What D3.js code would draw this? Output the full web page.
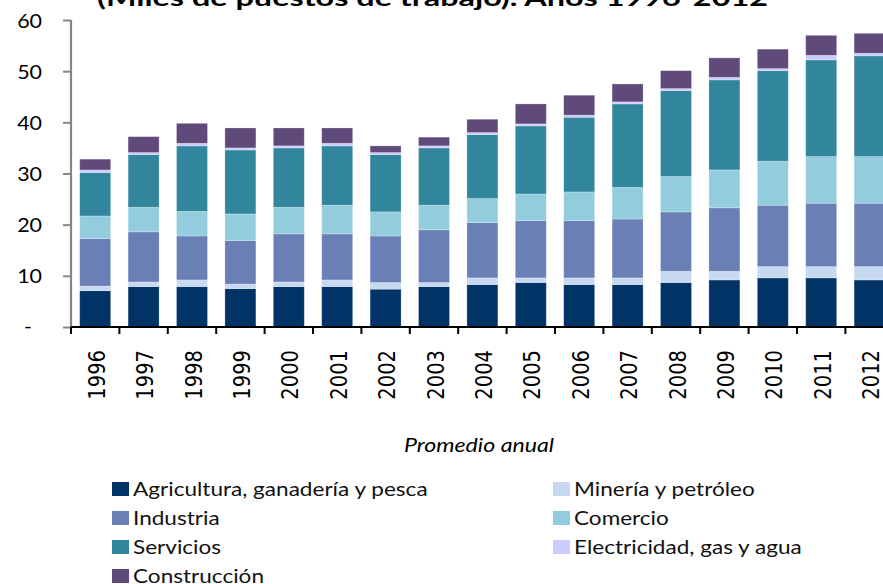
<!DOCTYPE html>
<html>
<head>
<meta charset="utf-8">
<script src="https://cdn.jsdelivr.net/npm/d3@7"></script>
<style>
  body { margin: 0; background: #fff; }
  svg { display: block; }
  text { font-family: Lato, "Open Sans", sans-serif; fill: #000; }
</style>
</head>
<body>
<div class="chart-wrapper"></div>
<script>
const years = ['1996','1997','1998','1999','2000','2001','2002','2003','2004','2005','2006','2007','2008','2009','2010','2011','2012']

const seriesNames = ['Agricultura, ganadería y pesca','Minería y petróleo','Industria','Comercio','Servicios','Electricidad, gas y agua','Construcción']
const seriesColors = ['#013366','#c6d9f0','#6b7fb7','#93cddd','#31859c','#ccccfc','#604a7b']

const agricultura = [7.1,7.9,7.9,7.5,7.9,7.9,7.4,7.9,8.3,8.7,8.3,8.3,8.7,9.2,9.6,9.6,9.2]
const mineria = [0.9,0.9,1.3,0.9,0.9,1.3,1.3,0.8,1.3,0.9,1.3,1.3,2.2,1.7,2.2,2.2,2.6]
const industria = [9.3,9.8,8.6,8.5,9.4,9.0,9.1,10.3,10.8,11.2,11.2,11.5,11.6,12.4,12.0,12.4,12.4]
const comercio = [4.4,4.8,4.8,5.2,5.2,5.6,4.7,4.8,4.7,5.2,5.6,6.2,6.9,7.4,8.6,9.1,9.1]
const servicios = [8.5,10.3,12.8,12.5,11.6,11.6,11.2,11.2,12.5,13.3,14.6,16.3,16.8,17.6,17.7,18.9,19.7]
const electricidad = [0.5,0.4,0.5,0.4,0.4,0.5,0.4,0.4,0.4,0.4,0.4,0.4,0.4,0.5,0.4,0.9,0.5]
const construccion = [2.1,3.1,3.9,3.9,3.5,3.0,1.3,1.7,2.6,3.9,3.9,3.5,3.5,3.8,3.8,3.9,3.9]

const yTicks = [0,10,20,30,40,50,60]
const yTickLabels = ['-','10','20','30','40','50','60']

const title = '(Miles de puestos de trabajo). Años 1996-2012'
const xTitle = 'Promedio anual'

let width = 883, height = 584
let sx = 1.22 // the source picture is stretched sideways

let svg = d3.select('.chart-wrapper').append('svg')
.attr('width', width)
.attr('height', height)

let values = [agricultura, mineria, industria, comercio, servicios, electricidad, construccion]
let table = years.map((y, i) => {
	let row = { year: y }
	seriesNames.forEach((s, j) => row[s] = values[j][i])
	return row
})

let stack = d3.stack().keys(seriesNames)(table)

let x = d3.scaleBand()
.domain(years)
.range([71, 893.8])
.paddingInner(0.36)
.paddingOuter(0.18)

let y = d3.scaleLinear()
.domain([0, 60])
.range([327, 20])

let color = d3.scaleOrdinal().domain(seriesNames).range(seriesColors)

// title, cut at the top like the original
svg.append('text')
.attr('x', 97)
.attr('y', 6)
.attr('textLength', 671)
.attr('lengthAdjust', 'spacingAndGlyphs')
.style('font-size', '22px')
.style('font-weight', 'bold')
.text(title)

// bars
svg.append('g').selectAll('g')
.data(stack)
.join('g')
.attr('fill', d => color(d.key))
.selectAll('rect')
.data(d => d)
.join('rect')
.attr('x', d => x(d.data.year))
.attr('width', x.bandwidth())
.attr('y', d => y(d[1]))
.attr('height', d => y(d[0]) - y(d[1]))
.attr('stroke', '#fff')
.attr('stroke-opacity', 0.3)
.attr('stroke-width', 0.8)

// y axis
let yAxis = svg.append('g')
.attr('transform', 'translate(71,0)')
.call(d3.axisLeft(y).tickValues(yTicks).tickSize(8).tickFormat((d, i) => yTickLabels[i]))

yAxis.select('.domain').attr('stroke', '#868686').attr('stroke-width', 2.2).attr('d', 'M0,' + y(60) + 'V' + y(0))
yAxis.selectAll('.tick line').attr('stroke', '#868686').attr('stroke-width', 2)
yAxis.selectAll('.tick text')
.attr('x', null).attr('dy', null)
.attr('text-anchor', 'end')
.attr('transform', d => d === 0 ? 'translate(-39,5) scale(1.1,1)' : 'translate(-29,7) scale(1.1,1)')
.style('font-family', 'Lato, sans-serif')
.style('font-size', '19.5px')
.style('fill', '#000')

// x axis line and separators between years
let xAxis = svg.append('g')
xAxis.append('line')
.attr('x1', 71).attr('x2', width)
.attr('y1', y(0)).attr('y2', y(0))
.attr('stroke', '#000').attr('stroke-width', 2.2)

xAxis.selectAll('.sep')
.data(d3.range(years.length + 1))
.join('line')
.attr('class', 'sep')
.attr('x1', i => 71 + i * x.step()).attr('x2', i => 71 + i * x.step())
.attr('y1', y(0)).attr('y2', y(0) + 7)
.attr('stroke', '#000').attr('stroke-width', 2)

xAxis.selectAll('.yr')
.data(years)
.join('text')
.attr('class', 'yr')
.attr('transform', d => 'translate(' + (x(d) + x.bandwidth() / 2 + 1) + ',350) rotate(-90) scale(1,1.22)')
.attr('text-anchor', 'end')
.attr('dy', '0.36em')
.style('font-family', '"DejaVu Sans", sans-serif')
.style('font-size', '19.5px')
.text(d => d)

svg.append('text')
.attr('transform', 'translate(479,452) scale(' + sx + ',1)')
.attr('text-anchor', 'middle')
.style('font-size', '19px')
.style('font-style', 'italic')
.text(xTitle)

// legend, two columns filled row by row
let legend = svg.append('g').selectAll('g')
.data(seriesNames)
.join('g')
.attr('transform', (d, i) => 'translate(' + (i % 2 ? 553 : 112) + ',' + (496 + Math.floor(i / 2) * 29) + ')')

legend.append('rect')
.attr('x', 0).attr('y', -14)
.attr('width', 17).attr('height', 14)
.attr('fill', d => color(d))

legend.append('text')
.attr('transform', 'translate(21,0) scale(' + sx + ',1)')
.style('font-size', '18.5px')
.style('fill', '#111')
.text(d => d)
</script>
</body>
</html>
